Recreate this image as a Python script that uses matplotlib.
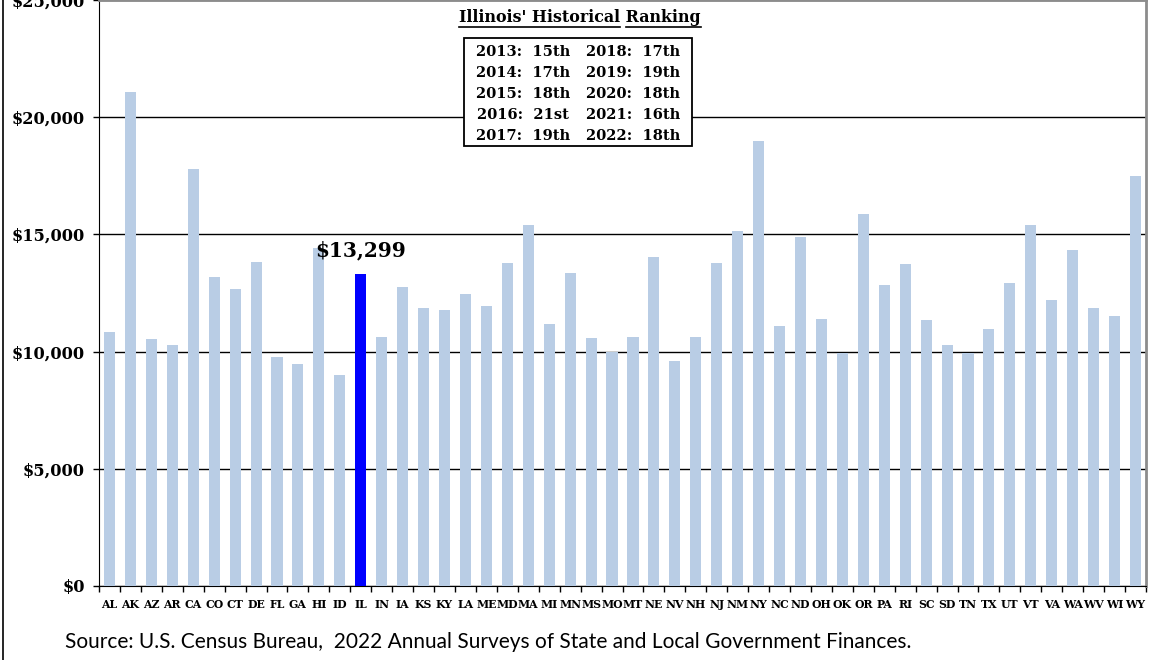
import matplotlib
matplotlib.use('Agg')
import matplotlib.pyplot as plt
from matplotlib.patches import Rectangle
from matplotlib.lines import Line2D

states = ['AL', 'AK', 'AZ', 'AR', 'CA', 'CO', 'CT', 'DE', 'FL', 'GA', 'HI', 'ID', 'IL',
          'IN', 'IA', 'KS', 'KY', 'LA', 'ME', 'MD', 'MA', 'MI', 'MN', 'MS', 'MO', 'MT',
          'NE', 'NV', 'NH', 'NJ', 'NM', 'NY', 'NC', 'ND', 'OH', 'OK', 'OR', 'PA', 'RI',
          'SC', 'SD', 'TN', 'TX', 'UT', 'VT', 'VA', 'WA', 'WV', 'WI', 'WY']
spending = [10850, 21060, 10525, 10280, 17780, 13170, 12685, 13820, 9785, 9485, 14405, 9000, 13299,
            10610, 12770, 11875, 11760, 12445, 11960, 13795, 15390, 11190, 13365, 10595, 9995, 10625,
            14050, 9615, 10610, 13780, 15145, 19000, 11105, 14890, 11375, 9925, 15855, 12855, 13725,
            11350, 10280, 9955, 10965, 12915, 15390, 12190, 14335, 11860, 11505, 17505]
highlight = 'IL'

rank_years = [2013, 2014, 2015, 2016, 2017, 2018, 2019, 2020, 2021, 2022]
rank_labels = ['15th', '17th', '18th', '21st', '19th', '17th', '19th', '18th', '16th', '18th']

yticks = [0, 5000, 10000, 15000, 20000, 25000]
ytick_labels = ['$0', '$5,000', '$10,000', '$15,000', '$20,000', '$25,000']

W, H = 1151, 660
serif = 'DejaVu Serif'

fig = plt.figure(figsize=(W / 100, H / 100), dpi=100)
ax = fig.add_axes([99 / W, 1 - 586 / H, (1146 - 99) / W, 586 / H])

colors = ['#0000FF' if s == highlight else '#B9CDE5' for s in states]
x = list(range(len(states)))
ax.bar(x, spending, width=0.53, color=colors, zorder=3)

ax.set_xlim(-0.5, len(states) - 0.5)
ax.set_ylim(0, 25000)
ax.set_yticks(yticks)
ax.set_yticklabels(ytick_labels, fontfamily=serif, fontweight='bold', fontsize=11.6)
ax.yaxis.grid(True, color='black', linewidth=1.0, zorder=1)

# category labels centred, tick marks on the boundaries (Excel style)
ax.set_xticks(x)
ax.set_xticklabels(states, fontfamily=serif, fontweight='bold', fontsize=7.8)
ax.tick_params(axis='x', length=0, pad=9)
ax.set_xticks([i - 0.5 for i in range(len(states) + 1)], minor=True)
ax.tick_params(axis='x', which='minor', length=4, direction='out', width=1)
ax.tick_params(axis='y', length=4, direction='out', width=1, pad=6)

ax.spines['left'].set_color('black')
ax.spines['bottom'].set_color('black')
ax.spines['top'].set_color('#8C8C8C')
ax.spines['right'].set_color('#8C8C8C')
ax.spines['top'].set_linewidth(2)
ax.spines['right'].set_linewidth(2)

# value label on the highlighted bar
i_hl = states.index(highlight)
ax.annotate('${:,}'.format(spending[i_hl]), (i_hl, spending[i_hl]), xytext=(0, 10),
            textcoords='offset points', ha='center', va='bottom',
            fontfamily=serif, fontweight='bold', fontsize=14.5, zorder=5)

# ranking inset
def fx(px):
    return px / W

def fy(py):
    return 1 - py / H

tsize = 11.4
title = fig.text(fx(580), fy(17), "Illinois' Historical Ranking", ha='center', va='center',
                 fontfamily=serif, fontweight='bold', fontsize=tsize)

fig.patches.append(Rectangle((fx(464), fy(146)), fx(692) - fx(464), fy(38) - fy(146),
                             transform=fig.transFigure, facecolor='white',
                             edgecolor='black', linewidth=1.3, zorder=4))
for k in range(5):
    yy = fy(52 + k * 21)
    fig.text(fx(523), yy, '{}:  {}'.format(rank_years[k], rank_labels[k]), ha='center',
             va='center', fontfamily=serif, fontweight='bold', fontsize=10.5, zorder=5)
    fig.text(fx(633), yy, '{}:  {}'.format(rank_years[k + 5], rank_labels[k + 5]), ha='center',
             va='center', fontfamily=serif, fontweight='bold', fontsize=10.5, zorder=5)

fig.text(fx(65), fy(642), 'Source: U.S. Census Bureau,  2022 Annual Surveys of State and Local Government Finances.',
         ha='left', va='center', fontfamily='Lato', fontsize=15)

# chart border on the left edge
fig.lines.append(Line2D([fx(3), fx(3)], [0, 1], transform=fig.transFigure, color='black', linewidth=1.2))

# underline the title (two word groups, space between them left bare)
fig.canvas.draw()
r = fig.canvas.get_renderer()
bb = title.get_window_extent(r)
probe = fig.text(0, 0, "Illinois' Historical ", fontfamily=serif, fontweight='bold', fontsize=tsize)
w1 = probe.get_window_extent(r).width
probe2 = fig.text(0, 0, "Illinois' Historical", fontfamily=serif, fontweight='bold', fontsize=tsize)
w0 = probe2.get_window_extent(r).width
probe.remove()
probe2.remove()
uy = bb.y0 - 1
for a, b in [(bb.x0, bb.x0 + w0), (bb.x0 + w1, bb.x1)]:
    fig.lines.append(Line2D([a / W, b / W], [uy / H, uy / H], transform=fig.transFigure,
                            color='black', linewidth=1.2))

fig.savefig('out.png', dpi=100, facecolor='white')
